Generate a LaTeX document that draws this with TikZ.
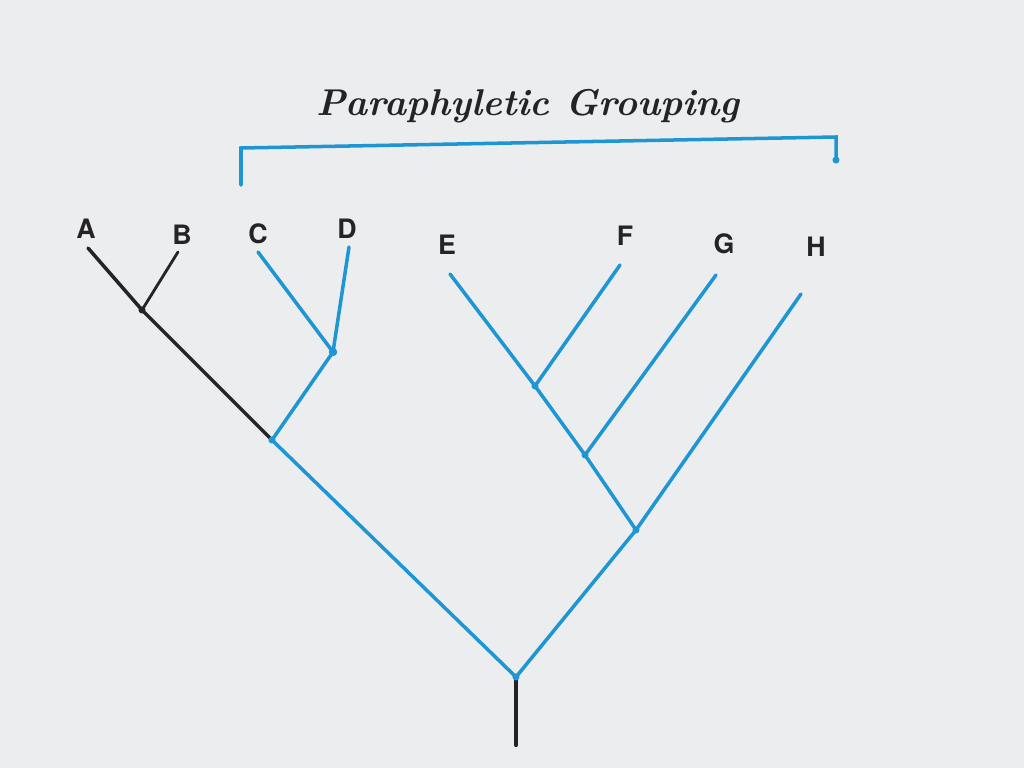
\documentclass[tikz,border=0pt]{standalone}
\usepackage{fontspec}
\setsansfont{TeX Gyre Heros}
\definecolor{pen}{RGB}{30,150,212}
\definecolor{ink}{RGB}{35,35,40}
\definecolor{paper}{RGB}{236,237,238}
\begin{document}
\begin{tikzpicture}[x=0.025cm,y=-0.025cm,
  blueline/.style={draw=pen,line width=2.5pt,line cap=round},
  blackline/.style={draw=ink,line width=2.5pt,line cap=round},
  tiplabel/.style={text=ink,font=\sffamily\bfseries\fontsize{19}{21}\selectfont},
  jdot/.style={circle,fill=pen,inner sep=0pt,minimum size=6pt},
  kdot/.style={circle,fill=ink,inner sep=0pt,minimum size=5pt}]
\fill[paper] (0,0) rectangle (1024,768);
\useasboundingbox (0,0) rectangle (1024,768);
% coordinates
\coordinate (tA) at (88,248);
\coordinate (tB) at (178,252);
\coordinate (nAB) at (142,310);
\coordinate (tC) at (258,252);
\coordinate (tD) at (349,247);
\coordinate (nCD) at (333,352);
\coordinate (nACD) at (272,440);
\coordinate (tE) at (450,274);
\coordinate (tF) at (620,265);
\coordinate (nEF) at (535,386);
\coordinate (tG) at (716,275);
\coordinate (nG) at (585,455);
\coordinate (tH) at (801,294);
\coordinate (nH) at (636,530);
\coordinate (root) at (516,677);
\coordinate (stem) at (516,745);
\coordinate (bl) at (241,185);
\coordinate (blt) at (241,148);
\coordinate (brt) at (836,137);
\coordinate (br) at (836,160);
% labels
\node[tiplabel] (lA) at (86,229) {A};
\node[tiplabel] (lB) at (182,235) {B};
\node[tiplabel] (lC) at (258,234) {C};
\node[tiplabel] (lD) at (347,229) {D};
\node[tiplabel] (lE) at (447,245) {E};
\node[tiplabel] (lF) at (625,236) {F};
\node[tiplabel] (lG) at (724,244) {G};
\node[tiplabel] (lH) at (816,247) {H};
\node[text=ink,font=\fontsize{26.5}{28}\selectfont\bfseries\itshape] (title) at (528,106) {Paraphyletic Grouping};
% black part
\draw[blackline] (tA) -- (nAB) -- (nACD);
\draw[blackline,line width=2pt] (tB) -- (nAB);
\draw[blackline,line width=3pt] (root) -- (stem);
% blue part
\draw[blueline] (tC) -- (nCD);
\draw[blueline] (tD) -- (nCD);
\draw[blueline] (nCD) -- (nACD);
\draw[blueline] (nACD) -- (root);
\draw[blueline] (tE) -- (nEF);
\draw[blueline] (tF) -- (nEF);
\draw[blueline] (nEF) -- (nG);
\draw[blueline] (tG) -- (nG);
\draw[blueline] (nG) -- (nH);
\draw[blueline] (tH) -- (nH);
\draw[blueline] (nH) -- (root);
% bracket
\draw[blueline] (bl) -- (blt) -- (brt) -- (br);
% junction dots
\node[kdot] (dAB) at (nAB) {};
\node[jdot] (dCD) at (nCD) {};
\node[jdot,minimum size=5pt] (dACD) at (nACD) {};
\node[jdot,minimum size=5pt] (dEF) at (nEF) {};
\node[jdot,minimum size=5pt] (dG) at (nG) {};
\node[jdot,minimum size=5pt] (dH) at (nH) {};
\node[jdot,minimum size=5pt] (dR) at (root) {};
\node[jdot,minimum size=5pt] (dBR) at (br) {};
\end{tikzpicture}
\end{document}
